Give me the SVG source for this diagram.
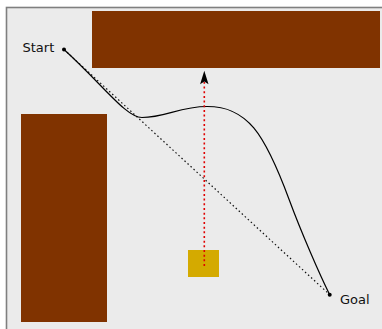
<svg xmlns="http://www.w3.org/2000/svg" width="382" height="329" viewBox="0 0 382 329">
  <style>
    .obstacle { fill: #803300; }
    .label { font-family: "DejaVu Sans", sans-serif; font-size: 13px; fill: #111; }
    .path { fill: none; stroke: #000; stroke-width: 1.2; }
    .direct { fill: none; stroke: #111; stroke-width: 1.2; stroke-dasharray: 1.5 2.6; }
    .force { fill: none; stroke: #e00000; stroke-width: 1.6; stroke-dasharray: 2 2.67; }
  </style>
  <rect width="382" height="329" fill="#ffffff"/>
  <!-- plot area -->
  <rect x="6.5" y="7.5" width="400" height="400" fill="#ebebeb" stroke="#7f7f7f" stroke-width="1.6"/>

  <g id="obstacle-top"><rect class="obstacle" x="92" y="11" width="288" height="57"/></g>
  <g id="obstacle-left"><rect class="obstacle" x="21" y="114" width="86" height="208"/></g>
  <g id="robot"><rect x="188" y="250" width="31" height="27" fill="#d4aa00"/></g>

  <g id="connectors">
    <!-- straight line from start to goal -->
    <line class="direct" x1="64" y1="49.5" x2="329.7" y2="294.7"/>
    <!-- planned trajectory -->
    <path class="path" d="M64,49.5 C104,86 126,117.5 142,117.5 C165,117.5 180,106.5 207,106.5 C247,106.5 264.3,132.5 289.3,200 C301.3,232.4 319.7,274.7 329.7,294.7"/>
    <!-- repulsive force vector -->
    <line class="force" x1="204.3" y1="266" x2="204.3" y2="82"/>
    <polygon points="204.3,70.7 208.5,84.3 204.3,81.5 200.1,84.3" fill="#000"/>
  </g>

  <g id="start">
    <circle cx="64" cy="49.5" r="2" fill="#000"/>
    <text class="label" x="22.5" y="52">Start</text>
  </g>
  <g id="goal">
    <circle cx="329.7" cy="294.7" r="2" fill="#000"/>
    <text class="label" x="340" y="304">Goal</text>
  </g>
</svg>
